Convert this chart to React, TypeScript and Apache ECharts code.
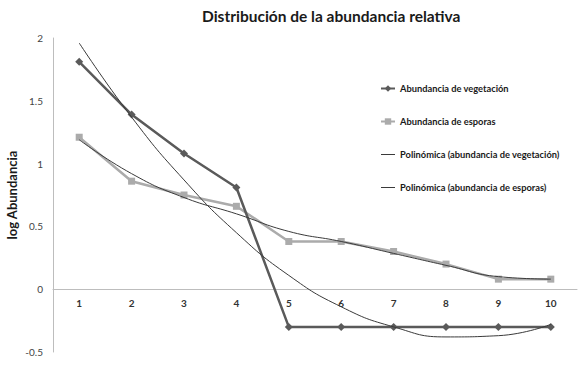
import React, { useEffect, useRef } from "react";
import * as echarts from "echarts";

const categories = ["1", "2", "3", "4", "5", "6", "7", "8", "9", "10"];
const vegetacion = [1.81, 1.39, 1.08, 0.81, -0.3, -0.3, -0.3, -0.3, -0.3, -0.3];
const esporas = [1.21, 0.86, 0.75, 0.66, 0.38, 0.38, 0.3, 0.2, 0.08, 0.08];
const polyVegetacion = [1.96, 1.37, 0.87, 0.45, 0.11, -0.14, -0.3, -0.38, -0.37, -0.28];
const polyEsporas = [1.19, 0.92, 0.73, 0.6, 0.46, 0.38, 0.285, 0.19, 0.1, 0.08];

const FONT = "Lato";
const THIN_ICON = "path://M0,0 L14,0 L14,1 L0,1 Z";

export default function App() {
  const ref = useRef<HTMLDivElement>(null);
  useEffect(() => {
    if (!ref.current) return;
    const chart = echarts.init(ref.current, undefined, { renderer: "svg" });
    chart.setOption({
      animation: false,
      backgroundColor: "#ffffff",
      textStyle: { fontFamily: FONT },
      title: {
        text: "Distribución de la abundancia relativa",
        left: 197,
        top: 3,
        textStyle: { fontFamily: FONT, fontSize: 15.5, fontWeight: "bold", color: "#1a1a1a" },
      },
      legend: {
        orient: "vertical",
        left: 375,
        top: 79,
        itemGap: 24,
        itemWidth: 14,
        itemHeight: 8,
        textStyle: { fontFamily: FONT, fontSize: 9.3, fontWeight: "bold", color: "#1a1a1a" },
        data: [
          { name: "Abundancia de vegetación" },
          { name: "Abundancia de esporas" },
          { name: "Polinómica (abundancia de vegetación)", icon: THIN_ICON },
          { name: "Polinómica (abundancia de esporas)", icon: THIN_ICON },
        ],
      },
      grid: { left: 53, right: 11, top: 38, bottom: 27, outerBoundsMode: "none", containLabel: false },
      xAxis: {
        type: "category",
        data: categories,
        boundaryGap: true,
        offset: -63,
        axisLine: { onZero: false, lineStyle: { color: "#bdbdbd", width: 1 } },
        axisTick: { show: false },
        axisLabel: { fontFamily: FONT, fontSize: 10, fontWeight: "bold", color: "#333", margin: 9 },
      },
      yAxis: {
        type: "value",
        min: -0.5,
        max: 2,
        interval: 0.5,
        name: "log Abundancia",
        nameLocation: "middle",
        nameRotate: 90,
        nameGap: 35,
        nameMoveOverlap: false,
        nameTextStyle: { fontFamily: FONT, fontSize: 13, fontWeight: "bold", color: "#1a1a1a" },
        axisLine: { show: true, lineStyle: { color: "#bdbdbd", width: 1 } },
        axisTick: { show: false },
        splitLine: { show: false },
        axisLabel: { fontFamily: FONT, fontSize: 10, color: "#444", margin: 10 },
      },
      series: [
        {
          name: "Abundancia de vegetación",
          type: "line",
          data: vegetacion,
          symbol: "diamond",
          symbolSize: 8,
          itemStyle: { color: "#5a5a5a" },
          lineStyle: { color: "#5a5a5a", width: 2.5 },
          z: 3,
        },
        {
          name: "Abundancia de esporas",
          type: "line",
          data: esporas,
          symbol: "rect",
          symbolSize: 7,
          itemStyle: { color: "#ababab" },
          lineStyle: { color: "#ababab", width: 2.5 },
          z: 2,
        },
        {
          name: "Polinómica (abundancia de vegetación)",
          type: "line",
          data: polyVegetacion,
          smooth: 0.5,
          showSymbol: false,
          symbol: "none",
          itemStyle: { color: "#3a3a3a" },
          lineStyle: { color: "#3a3a3a", width: 1 },
          z: 4,
        },
        {
          name: "Polinómica (abundancia de esporas)",
          type: "line",
          data: polyEsporas,
          smooth: 0.5,
          showSymbol: false,
          symbol: "none",
          itemStyle: { color: "#3a3a3a" },
          lineStyle: { color: "#3a3a3a", width: 1 },
          z: 4,
        },
      ],
    });
    return () => chart.dispose();
  }, []);
  return <div ref={ref} style={{ width: 588, height: 379, position: "fixed", left: 0, top: 0 }} />;
}
